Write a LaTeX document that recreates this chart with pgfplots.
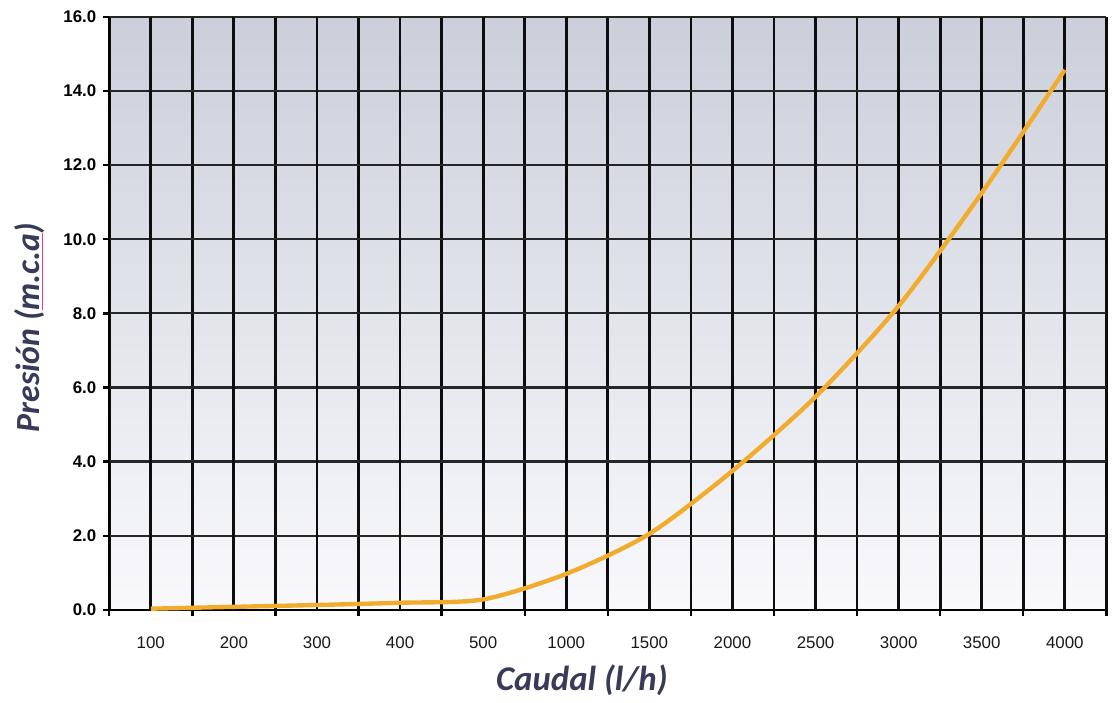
\documentclass[border=0pt]{standalone}
\usepackage{pgfplots}
\pgfplotsset{compat=1.18}
\usepackage{fontspec}
\setmainfont{Liberation Sans}
\newfontfamily\calib{Carlito}
\definecolor{labelc}{RGB}{55,58,88}
\definecolor{curvec}{RGB}{242,172,45}
\definecolor{bgtop}{RGB}{203,207,218}
\definecolor{bgmid}{RGB}{234,236,241}
\definecolor{bgbot}{RGB}{249,249,252}
\begin{document}
\begin{tikzpicture}
\begin{axis}[
  scale only axis, width=502pt, height=298.5pt,
  xmin=-0.5, xmax=11.5, ymin=0, ymax=16,
  axis lines=left,
  axis line style={-, line width=1.2pt, black},
  axis background/.style={top color=bgtop, middle color=bgmid, bottom color=bgbot},
  xtick={-0.5,0.5,...,11.5},
  xticklabels={},
  extra x ticks={0,1,2,3,4,5,6,7,8,9,10,11},
  extra x tick labels={100,200,300,400,500,1000,1500,2000,2500,3000,3500,4000},
  extra x tick style={grid=major, major tick length=0pt},
  ytick={0,2,...,16},
  xmajorgrids, ymajorgrids,
  x grid style={line width=1.4pt, black!95},
  y grid style={line width=1.1pt, black!85},
  tick align=outside,
  major tick length=3pt,
  tick style={line width=1.2pt, black},
  yticklabel style={font=\bfseries\fontsize{8.5}{10}\selectfont, /pgf/number format/.cd, fixed, fixed zerofill, precision=1, assume math mode=true},
  xticklabel style={font=\fontsize{8.5}{10}\selectfont, yshift=-10pt, text=black!90, /pgf/number format/assume math mode=true},
  xlabel={{\calib\bfseries\itshape Caudal (l/h)}},
  ylabel={{\calib\bfseries\itshape Presión ({\color{magenta!80}\underline{\textcolor{labelc}{m.c.a}}})}},
  x label style={at={(axis description cs:0.474,-0.119)}, anchor=center, font=\fontsize{17.5}{20}\selectfont, text=labelc},
  y label style={at={(axis description cs:-0.0797,0.476)}, anchor=center, font=\fontsize{17}{20}\selectfont, text=labelc},
  clip=false,
]
\addplot[color=curvec, line width=2.2pt, smooth, tension=0.45] coordinates {
  (0,0.03) (1,0.08) (2,0.13) (3,0.19) (4,0.28) (5,0.97) (6,2.05) (7,3.75) (8,5.75) (9,8.2) (10,11.25) (11,14.57)
};
\end{axis}
\path (current axis.south west) ++(-55pt,0pt);
\path (current axis.north west) ++(0pt,8.5pt);
\end{tikzpicture}
\end{document}
